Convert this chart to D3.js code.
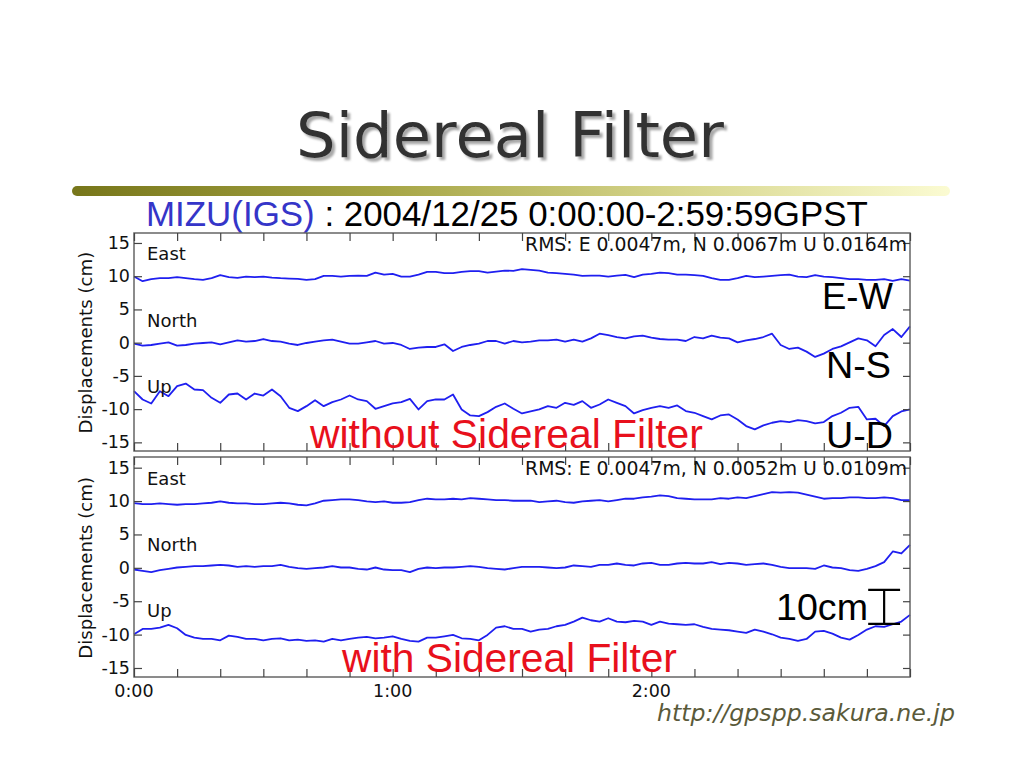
<!DOCTYPE html>
<html>
<head>
<meta charset="utf-8">
<script src="https://cdn.jsdelivr.net/npm/d3@7"></script>
<style>
  html, body { margin: 0; padding: 0; background: #ffffff; }
  svg { display: block; }
</style>
</head>
<body>
<svg id="chart" width="1024" height="768"></svg>
<script>
// ---------------- DATA (cm, sampled every 2 minutes from 0:00 to 3:00) ----------------
const timeStepMin = 2;
const xTickMinutes = [0, 60, 120];
const xTickLabels = ["0:00", "1:00", "2:00"];
const yTickValues = [-15, -10, -5, 0, 5, 10, 15];
const componentNames = ["East", "North", "Up"];

// without sidereal filter
const eastRaw = [9.95,9.25,9.55,9.7,9.7,9.85,9.7,9.55,9.45,9.7,10.15,9.85,9.75,9.95,9.85,9.95,9.8,9.7,9.65,9.6,9.45,9.55,10.05,10.05,9.95,10.05,10.1,10.05,10.55,10.25,10.35,
  9.95,9.95,10.25,10.65,10.65,10.45,10.45,10.65,10.75,10.75,10.55,10.7,10.85,10.8,11.05,10.95,10.85,10.55,10.45,10.35,10.25,10.05,10.1,10.1,9.95,10.1,10.2,9.85,10.25,10.35,
  10.55,10.45,10.25,10.25,10.15,10.05,9.7,9.45,9.45,9.7,10.05,9.85,9.95,10.05,10.15,10.25,9.95,9.85,10.15,9.95,9.85,9.7,9.55,9.55,9.45,9.45,9.55,9.3,9.55,9.35];
const northRaw = [-0.15,-0.45,-0.35,-0.15,0.05,-0.45,-0.35,-0.15,-0.05,0.05,-0.25,0.05,0.35,0.15,0.25,0.55,0.25,0.15,-0.15,-0.35,-0.05,0.15,0.35,0.45,0.15,-0.15,-0.15,0.05,0.25,-0.15,-0.05,
  -0.35,-0.95,-0.75,-0.65,-0.65,-0.25,-1.25,-0.65,-0.35,-0.15,0.25,0.25,-0.15,0.25,0.05,0.15,0.35,0.35,0.45,0.15,0.45,0.15,0.65,1.35,1.15,0.85,0.65,0.95,1.05,0.75,
  0.55,0.45,0.45,0.25,0.85,0.65,1.05,0.75,0.65,0.05,0.35,0.55,0.85,1.35,-0.35,-0.95,-0.75,-1.35,-2.15,-1.65,-0.95,-0.55,0.05,0.65,0.35,-0.55,1.15,2.05,0.85,2.45];
const upRaw = [-7.3,-8.55,-9.15,-7.3,-8.05,-6.55,-6.15,-7.05,-7.15,-8.3,-9.05,-7.8,-7.65,-8.55,-7.65,-7.95,-7.05,-8.05,-9.8,-10.3,-9.55,-8.65,-9.55,-8.95,-8.55,-7.95,-8.55,-8.8,-9.95,-9.55,-9.15,
  -8.95,-8.45,-10.05,-8.8,-8.55,-8.55,-7.8,-10.05,-10.95,-11.05,-10.45,-9.65,-9.15,-9.95,-10.65,-10.35,-10.05,-9.55,-9.8,-9.05,-9.35,-8.8,-9.8,-9.3,-8.55,-9.05,-9.55,-10.65,-10.15,-9.8,
  -9.55,-9.8,-9.45,-10.3,-10.55,-11.05,-11.55,-10.95,-10.8,-11.55,-12.55,-13.05,-12.45,-12.05,-11.8,-11.95,-11.65,-11.8,-12.15,-11.95,-11.05,-10.55,-9.8,-9.65,-11.55,-11.45,-12.55,-11.05,-10.35,-10.05];

// with sidereal filter
const eastFilt = [9.7,9.55,9.55,9.65,9.55,9.45,9.55,9.55,9.65,9.75,9.95,9.75,9.65,9.65,9.55,9.55,9.65,9.75,9.65,9.45,9.35,9.65,10.05,10.15,10.25,10.25,10.15,9.95,9.85,9.95,9.75,
  9.75,9.85,10.15,10.35,10.25,10.25,10.35,10.25,10.45,10.35,10.25,10.15,10.15,10.05,10.05,10.05,9.85,9.95,10.05,9.85,9.75,9.95,10.05,10.15,9.95,10.15,10.35,10.35,10.55,10.65,
  10.85,10.75,10.45,10.35,10.25,10.25,10.25,10.45,10.35,10.55,10.45,10.75,11.05,11.35,11.25,11.35,11.25,10.95,10.65,10.35,10.45,10.45,10.55,10.55,10.45,10.45,10.55,10.45,10.15,10.15];
const northFilt = [-0.25,-0.45,-0.65,-0.35,-0.15,0.05,0.15,0.25,0.25,0.35,0.45,0.35,0.15,0.25,0.15,0.25,0.25,0.45,0.15,-0.05,-0.15,-0.05,0.05,0.25,0.05,0.05,-0.15,-0.25,0.05,-0.25,-0.35,
  -0.35,-0.65,-0.15,0.05,-0.05,0.05,0.05,0.15,0.25,0.15,-0.05,-0.15,-0.25,-0.05,0.15,0.15,0.15,0.05,-0.05,0.05,0.35,0.25,0.15,0.45,0.45,0.65,0.45,0.35,0.65,0.75,
  0.45,0.45,0.65,0.75,0.65,0.65,0.85,0.55,0.75,0.65,0.45,0.55,0.65,0.45,0.15,-0.05,-0.05,-0.05,-0.15,0.35,0.05,-0.05,-0.35,-0.45,-0.15,0.25,0.85,2.45,2.15,3.45];
const upFilt = [-9.95,-9.15,-9.15,-8.95,-8.55,-9.05,-10.05,-10.45,-10.65,-10.65,-10.85,-10.15,-10.35,-10.65,-10.65,-10.85,-10.65,-10.55,-10.85,-10.75,-10.95,-10.85,-11.05,-10.65,-10.85,-10.65,-10.45,-10.35,-10.55,-10.45,-10.25,
  -10.65,-10.95,-11.05,-10.45,-10.45,-10.25,-10.05,-10.55,-10.65,-10.85,-10.05,-8.95,-8.75,-9.15,-9.15,-9.55,-9.25,-9.15,-8.75,-8.55,-8.05,-7.45,-7.85,-8.05,-7.55,-8.05,-8.15,-7.95,-8.05,-8.55,
  -8.05,-8.35,-8.45,-8.55,-8.45,-8.85,-9.15,-9.25,-9.35,-9.55,-9.75,-9.25,-9.55,-9.95,-10.45,-10.65,-10.95,-10.65,-9.55,-9.45,-9.85,-10.45,-10.75,-10.05,-9.25,-8.75,-8.85,-8.45,-8.05,-7.05];

const rmsRaw = "RMS: E 0.0047m, N 0.0067m U 0.0164m";
const rmsFilt = "RMS: E 0.0047m, N 0.0052m U 0.0109m";
// scale bar annotation (cm on the lower panel's axis, minutes on the time axis)
const scaleBarCm = [-3.3, -8.4];
const scaleBarMin = [170.3, 177.7];

// ---------------- LAYOUT ----------------
const svg = d3.select("#chart");
const W = 1024, H = 768;
const plotLeft = 134, plotRight = 910;
const panels = [
  { top: 233, bottom: 451, domain: [-16.3, 16.5], series: [eastRaw, northRaw, upRaw], rms: rmsRaw,
    labelBase: [260, 327, 393] },
  { top: 457, bottom: 677, domain: [-16.35, 16.6], series: [eastFilt, northFilt, upFilt], rms: rmsFilt,
    labelBase: [485, 551, 617] }
];
const lineColor = "#1f1ff0";
const axisFont = "'DejaVu Sans', Verdana, sans-serif";
const arialFont = "'Liberation Sans', Arial, sans-serif";

function fit(sel, w) {
  const len = sel.node().getComputedTextLength();
  const fs = parseFloat(sel.attr("font-size"));
  sel.attr("font-size", (fs * w / len).toFixed(2));
  return sel;
}

svg.append("rect").attr("width", W).attr("height", H).attr("fill", "#fff");

const defs = svg.append("defs");
const grad = defs.append("linearGradient").attr("id", "barGrad").attr("x1", "0%").attr("x2", "100%");
grad.append("stop").attr("offset", "0%").attr("stop-color", "#77761a");
grad.append("stop").attr("offset", "35%").attr("stop-color", "#a5a444");
grad.append("stop").attr("offset", "70%").attr("stop-color", "#d8d78f");
grad.append("stop").attr("offset", "100%").attr("stop-color", "#fbfbd2");
const shadow = defs.append("filter").attr("id", "titleShadow")
  .attr("x", "-5%").attr("y", "-20%").attr("width", "115%").attr("height", "150%");
shadow.append("feDropShadow").attr("dx", 3).attr("dy", 3).attr("stdDeviation", 0.8)
  .attr("flood-color", "#a8a8a8").attr("flood-opacity", 1);

// Title
const title = svg.append("text").attr("x", 510).attr("y", 157).attr("text-anchor", "middle")
  .attr("font-family", axisFont).attr("font-size", 60).attr("fill", "#333333")
  .attr("filter", "url(#titleShadow)").text("Sidereal Filter");
fit(title, 428);

svg.append("rect").attr("x", 72).attr("y", 186).attr("width", 878).attr("height", 10)
  .attr("rx", 5).attr("fill", "url(#barGrad)");

// Subtitle
const sub = svg.append("text").attr("x", 146).attr("y", 226)
  .attr("font-family", arialFont).attr("font-size", 26).attr("fill", "#000");
sub.append("tspan").attr("fill", "#3535c8").text("MIZU(IGS)");
sub.append("tspan").text(" : 2004/12/25 0:00:00-2:59:59GPST");
fit(sub, 722);

const x = d3.scaleLinear().domain([0, 180]).range([plotLeft, plotRight]);
const xTicksAll = d3.range(0, 181, 10);

panels.forEach((p, pi) => {
  const y = d3.scaleLinear().domain(p.domain).range([p.bottom, p.top]);
  p.y = y;
  const g = svg.append("g");

  // lines
  const line = d3.line().x((d, i) => x(i * timeStepMin)).y(d => y(d));
  p.series.forEach(s => {
    g.append("path").datum(s).attr("d", line).attr("fill", "none")
      .attr("stroke", lineColor).attr("stroke-width", 1.8).attr("stroke-linejoin", "round");
  });

  // frame
  g.append("rect").attr("x", plotLeft).attr("y", p.top).attr("width", plotRight - plotLeft)
    .attr("height", p.bottom - p.top).attr("fill", "none").attr("stroke", "#666").attr("stroke-width", 1.5);

  // inward ticks via d3 axes
  const left = g.append("g").attr("transform", `translate(${plotLeft},0)`)
    .call(d3.axisRight(y).tickValues(yTickValues).tickSize(8).tickFormat(""));
  const right = g.append("g").attr("transform", `translate(${plotRight},0)`)
    .call(d3.axisLeft(y).tickValues(yTickValues).tickSize(7).tickFormat(""));
  const topA = g.append("g").attr("transform", `translate(0,${p.top})`)
    .call(d3.axisBottom(x).tickValues(xTicksAll).tickSize(8).tickFormat(""));
  const botA = g.append("g").attr("transform", `translate(0,${p.bottom})`)
    .call(d3.axisTop(x).tickValues(xTicksAll).tickSize(8).tickFormat(""));
  [left, right, topA, botA].forEach(a => {
    a.select(".domain").remove();
    a.selectAll("line").attr("stroke", "#444").attr("stroke-width", 1.2);
  });

  // y tick labels
  g.selectAll(".ylab").data(yTickValues).enter().append("text")
    .attr("x", 130).attr("y", d => y(d) + 6).attr("text-anchor", "end")
    .attr("font-family", axisFont).attr("font-size", 17.5).attr("fill", "#111").text(d => d);

  // y axis title
  const yt = g.append("text").attr("transform", `translate(92,${y(0)}) rotate(-90)`)
    .attr("text-anchor", "middle").attr("font-family", axisFont).attr("font-size", 17)
    .attr("fill", "#111").text("Displacements (cm)");
  fit(yt, 182);

  // component labels
  componentNames.forEach((n, i) => {
    g.append("text").attr("x", 147).attr("y", p.labelBase[i]).attr("font-family", axisFont)
      .attr("font-size", 18).attr("fill", "#111").text(n);
  });

  // RMS text
  const r = g.append("text").attr("x", 907).attr("y", p.top + 18).attr("text-anchor", "end")
    .attr("font-family", axisFont).attr("font-size", 17).attr("fill", "#111").text(p.rms);
  fit(r, 382);
});

// x tick labels
svg.selectAll(".xlab").data(xTickMinutes).enter().append("text")
  .attr("x", d => x(d)).attr("y", 697).attr("text-anchor", "middle")
  .attr("font-family", axisFont).attr("font-size", 17.5).attr("fill", "#111")
  .text((d, i) => xTickLabels[i]);

// Red annotations
const red = "#e8101c";
fit(svg.append("text").attr("x", 310).attr("y", 448).attr("font-family", arialFont)
  .attr("font-size", 32).attr("fill", red).text("without Sidereal Filter"), 393);
fit(svg.append("text").attr("x", 342).attr("y", 672).attr("font-family", arialFont)
  .attr("font-size", 32).attr("fill", red).text("with Sidereal Filter"), 335);

// Component tags
[["E-W", 822, 309, 71], ["N-S", 826, 378, 65], ["U-D", 826, 448, 67]].forEach(([t, xx, yy, w]) => {
  fit(svg.append("text").attr("x", xx).attr("y", yy).attr("font-family", arialFont)
    .attr("font-size", 32).attr("fill", "#000").text(t), w);
});

// 10cm scale bar
fit(svg.append("text").attr("x", 776).attr("y", 620).attr("font-family", arialFont)
  .attr("font-size", 32).attr("fill", "#000").text("10cm"), 92);
const yb = panels[1].y;
const sb = svg.append("g").attr("stroke", "#000").attr("stroke-width", 2.2);
const xm = x((scaleBarMin[0] + scaleBarMin[1]) / 2);
sb.append("line").attr("x1", x(scaleBarMin[0])).attr("x2", x(scaleBarMin[1]))
  .attr("y1", yb(scaleBarCm[0])).attr("y2", yb(scaleBarCm[0]));
sb.append("line").attr("x1", x(scaleBarMin[0])).attr("x2", x(scaleBarMin[1]))
  .attr("y1", yb(scaleBarCm[1])).attr("y2", yb(scaleBarCm[1]));
sb.append("line").attr("x1", xm).attr("x2", xm)
  .attr("y1", yb(scaleBarCm[0])).attr("y2", yb(scaleBarCm[1]));

// Footer
fit(svg.append("text").attr("x", 657).attr("y", 721).attr("font-family", axisFont)
  .attr("font-style", "italic").attr("font-size", 20).attr("fill", "#5a5a3a")
  .text("http://gpspp.sakura.ne.jp"), 298);
</script>
</body>
</html>
